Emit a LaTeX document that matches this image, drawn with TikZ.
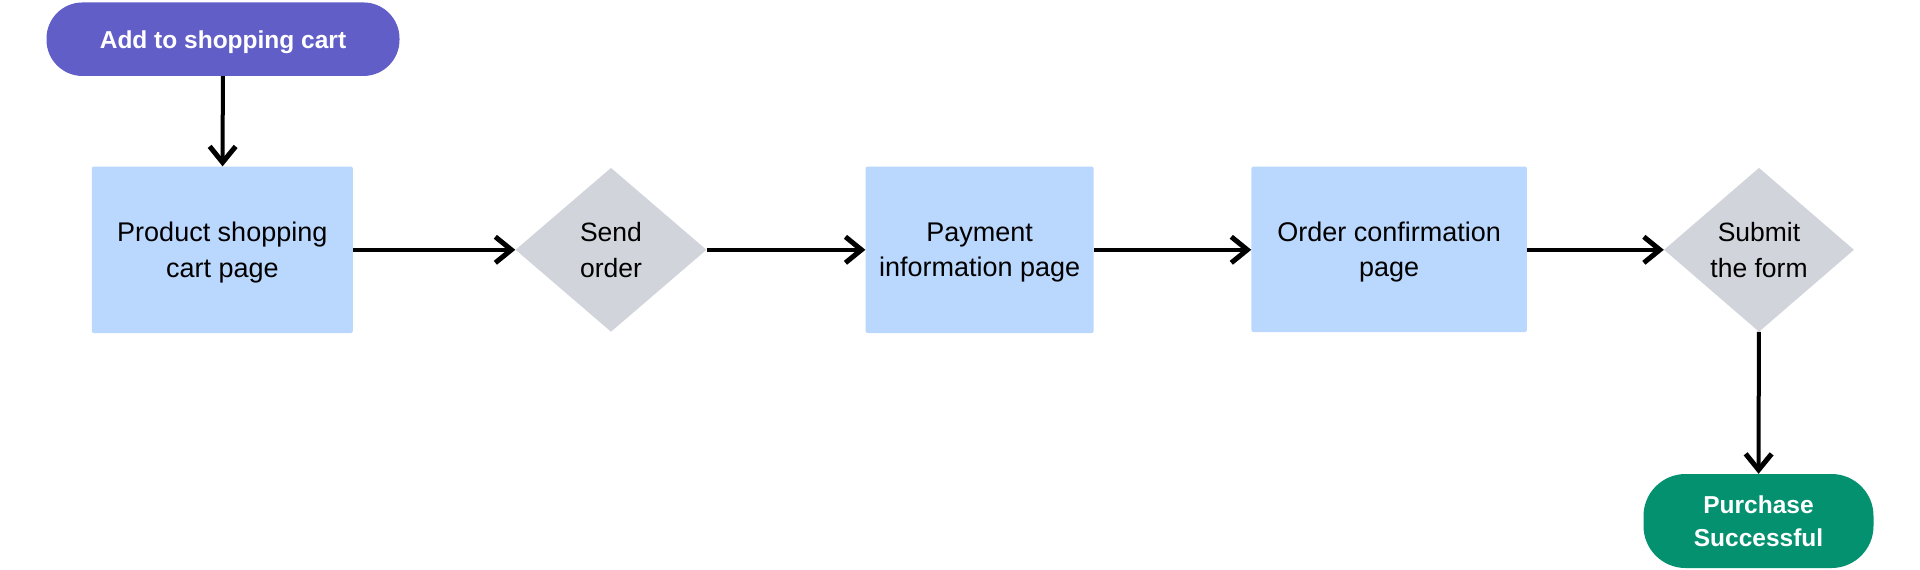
\documentclass[tikz,border=0pt]{standalone}
\usepackage{fontspec}
\setmainfont{Liberation Sans}
\usetikzlibrary{shapes.geometric,arrows.meta}
\definecolor{startc}{RGB}{98,94,200}
\definecolor{boxc}{RGB}{186,215,253}
\definecolor{decc}{RGB}{209,213,219}
\definecolor{endc}{RGB}{3,145,112}
\begin{document}
\begin{tikzpicture}[x=1pt,y=-1pt,
  box/.style={fill=boxc, draw=none, rounded corners=2pt, align=center, inner sep=0pt,
    text depth=0pt, font=\fontsize{27}{35.5}\selectfont},
  dec/.style={diamond, fill=decc, draw=none, align=center, inner sep=0pt,
    minimum width=191pt, minimum height=164pt, font=\fontsize{26.5}{35.5}\selectfont},
  pill/.style={draw=none, text=white, align=center, inner sep=0pt,
    font=\bfseries\fontsize{24.5}{33}\selectfont},
  arr/.style={line width=4pt, -{Straight Barb[length=16pt,width=26pt,line width=5pt]}}]
\useasboundingbox (0,0) rectangle (1920,570);
\node[pill, fill=startc, minimum width=353pt, minimum height=73.5pt, rounded corners=36pt, text depth=0pt] (start) at (223,39.2) {Add to shopping cart};
\node[box, minimum width=261pt, minimum height=166.5pt] (product) at (222.3,249.8) {Product shopping\\cart page};
\node[dec] (send) at (611,249.8) {Send\\order};
\node[box, minimum width=228pt, minimum height=166.5pt] (payment) at (979.6,249.8) {Payment\\information page};
\node[box, minimum width=275.5pt, minimum height=165.5pt] (confirm) at (1389.2,249.3) {Order confirmation\\page};
\node[dec, minimum width=190pt] (submit) at (1759,249.8) {Submit\\the form};
\node[pill, fill=endc, minimum width=230pt, minimum height=94pt, rounded corners=42pt] (purchase) at (1758.5,521) {Purchase\\Successful};
\draw[arr] (start) -- (product);
\draw[arr] (product) -- (send);
\draw[arr] (send) -- (payment);
\draw[arr] (payment.east |- send.east) -- (confirm.west |- send.east);
\draw[arr] (confirm.east |- submit.west) -- (submit.west);
\draw[arr] (submit) -- (purchase);
\end{tikzpicture}
\end{document}
